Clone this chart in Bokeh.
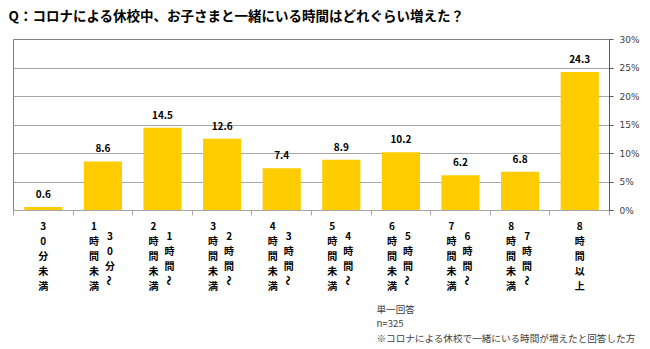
import math
from bokeh.plotting import figure
from bokeh.layouts import column
from bokeh.models import ColumnDataSource, LabelSet, Range1d, FixedTicker
from bokeh.core.properties import value
from bokeh.embed import file_html
from bokeh.resources import INLINE

title = "Q：コロナによる休校中、お子さまと一緒にいる時間はどれぐらい増えた？"
categories = ["30分未満", "30分～1時間未満", "1時間～2時間未満", "2時間～3時間未満",
              "3時間～4時間未満", "4時間～5時間未満", "5時間～6時間未満",
              "6時間～7時間未満", "7時間～8時間未満", "8時間以上"]
values = [0.6, 8.6, 14.5, 12.6, 7.4, 8.9, 10.2, 6.2, 6.8, 24.3]
y_ticks = [0, 5, 10, 15, 20, 25, 30]
notes = ["単一回答", "n=325", "※コロナによる休校で一緒にいる時間が増えたと回答した方"]

JP = "Noto Sans CJK JP"
BAR = "#FFCC00"
W = 650


def blank(h, xr, yr, **kw):
    f = figure(width=W, height=h, output_backend="svg", toolbar_location=None,
               x_range=xr, y_range=yr, min_border_top=0, min_border_bottom=0,
               frame_align=False, **kw)
    f.axis.visible = False
    f.grid.visible = False
    f.outline_line_color = None
    return f


# ---- title strip ----
ft = blank(29, Range1d(0, W), Range1d(29, 0), min_border_left=0, min_border_right=0)
ft.text(x=[8], y=[14], text=[title], text_font=value(JP), text_font_style="bold",
        text_font_size="13.5px", text_baseline="middle", text_align="left",
        text_color="#000000")

# ---- main chart ----
xr = Range1d(0, len(categories))
p = figure(width=W, height=188, output_backend="svg", toolbar_location=None,
           x_range=xr, y_range=Range1d(0, 30), frame_align=False,
           y_axis_location="right", min_border_left=13, min_border_right=41,
           min_border_top=10, min_border_bottom=7)
p.outline_line_color = "#7F7F7F"

xs = [i + 0.5 for i in range(len(categories))]
src = ColumnDataSource(dict(x=xs, top=values, lab=["%.1f" % v for v in values]))
p.vbar(x="x", top="top", width=0.64, source=src, fill_color=BAR, line_color=None)

p.xgrid.visible = False
p.ygrid.grid_line_color = "#A6A6A6"
p.ygrid.ticker = FixedTicker(ticks=y_ticks)
xa = p.xaxis[0]
xa.ticker = FixedTicker(ticks=list(range(len(categories) + 1)))
xa.major_label_overrides = {t: "" for t in range(len(categories) + 1)}
xa.major_label_text_font_size = "1px"
xa.major_label_standoff = 0
xa.axis_line_color = "#A6A6A6"
xa.major_tick_line_color = "#A6A6A6"
xa.major_tick_in = 0
xa.major_tick_out = 5
xa.minor_tick_line_color = None

ya = p.yaxis[0]
ya.ticker = FixedTicker(ticks=y_ticks)
ya.major_label_overrides = {t: f"{t}%" for t in y_ticks}
ya.axis_line_color = "#595959"
ya.major_tick_line_color = "#595959"
ya.major_tick_in = 0
ya.major_tick_out = 4
ya.minor_tick_line_color = None
ya.major_label_text_font = "DejaVu Sans"
ya.major_label_text_font_size = "9px"
ya.major_label_text_color = "#404040"
ya.major_label_standoff = 6

p.add_layout(LabelSet(x="x", y="top", text="lab", source=src, y_offset=13,
                      text_align="center", text_baseline="middle",
                      text_font=value(JP), text_font_style="bold",
                      text_font_size="10px", text_color="#000000"))

# ---- vertical category labels ----
LH = 81
fl = blank(LH, xr, Range1d(LH, 0), min_border_left=13, min_border_right=41)
cx, ct, ca, xo, yo = [], [], [], [], []
for i, lab in enumerate(categories):
    if "～" in lab:
        first, second = lab.split("～")
        cols = [(second, -9, 0), (first + "～", 7, 10)]
    else:
        cols = [(lab, 0, 0)]
    for txt, dx, dy in cols:
        for j, ch in enumerate(txt):
            cx.append(i + 0.5)
            ct.append(ch)
            ca.append(-math.pi / 2 if ch == "～" else 0.0)
            xo.append(dx)
            yo.append(dy + 15 * j)
csrc = ColumnDataSource(dict(x=cx, y=[8] * len(cx), t=ct, a=ca, xo=xo, yo=yo))
fl.text(x="x", y="y", text="t", angle="a", x_offset="xo", y_offset="yo", source=csrc,
        text_align="center", text_baseline="middle", text_font=value(JP),
        text_font_style="bold", text_font_size="10px", text_color="#000000")

# ---- notes ----
NH = 349 - 29 - 188 - LH
fn = blank(NH, Range1d(0, W), Range1d(NH, 0), min_border_left=0, min_border_right=0)
fn.text(x=[376] * len(notes), y=[10 + 14.5 * k for k in range(len(notes))], text=notes,
        text_font=value(JP), text_font_size="9.6px", text_baseline="middle",
        text_align="left", text_color="#404040")

layout = column(ft, p, fl, fn, spacing=0)
open("out.html", "w").write(file_html(layout, INLINE))
